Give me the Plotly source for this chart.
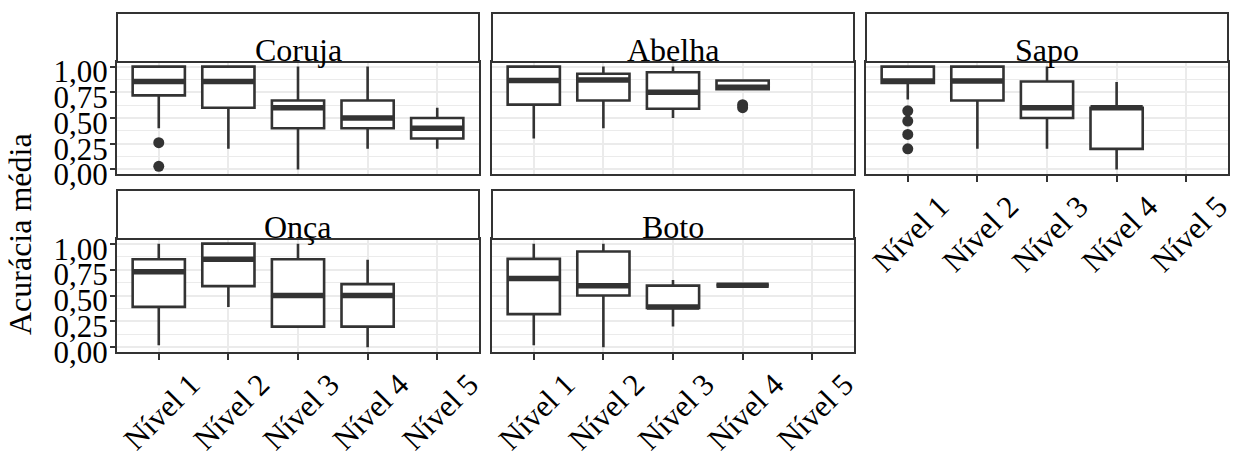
import plotly.graph_objects as go

levels = ["Nível 1", "Nível 2", "Nível 3", "Nível 4", "Nível 5"]

# Coruja
coruja_x = ["Nível 1", "Nível 2", "Nível 3", "Nível 4", "Nível 5"]
coruja_q1 = [0.72, 0.60, 0.40, 0.40, 0.30]
coruja_med = [0.855, 0.855, 0.60, 0.50, 0.40]
coruja_q3 = [1.00, 1.00, 0.67, 0.67, 0.50]
coruja_lo = [0.40, 0.20, 0.00, 0.20, 0.20]
coruja_hi = [1.00, 1.00, 1.00, 1.00, 0.60]
coruja_out_x = ["Nível 1", "Nível 1"]
coruja_out_y = [0.26, 0.03]

# Abelha
abelha_x = ["Nível 1", "Nível 2", "Nível 3", "Nível 4"]
abelha_q1 = [0.63, 0.67, 0.59, 0.78]
abelha_med = [0.865, 0.87, 0.75, 0.80]
abelha_q3 = [1.00, 0.93, 0.945, 0.865]
abelha_lo = [0.30, 0.40, 0.50, 0.78]
abelha_hi = [1.00, 1.00, 1.00, 0.865]
abelha_out_x = ["Nível 4", "Nível 4"]
abelha_out_y = [0.63, 0.60]

# Sapo
sapo_x = ["Nível 1", "Nível 2", "Nível 3", "Nível 4"]
sapo_q1 = [0.84, 0.67, 0.50, 0.20]
sapo_med = [0.86, 0.86, 0.60, 0.60]
sapo_q3 = [1.00, 1.00, 0.855, 0.60]
sapo_lo = [0.68, 0.20, 0.20, 0.00]
sapo_hi = [1.00, 1.00, 1.00, 0.85]
sapo_out_x = ["Nível 1", "Nível 1", "Nível 1", "Nível 1"]
sapo_out_y = [0.57, 0.47, 0.34, 0.20]

# Onça
onca_x = ["Nível 1", "Nível 2", "Nível 3", "Nível 4"]
onca_q1 = [0.39, 0.59, 0.20, 0.20]
onca_med = [0.73, 0.85, 0.50, 0.50]
onca_q3 = [0.85, 1.00, 0.85, 0.61]
onca_lo = [0.02, 0.39, 0.20, 0.00]
onca_hi = [1.00, 1.00, 1.00, 0.845]
onca_out_x = []
onca_out_y = []

# Boto
boto_x = ["Nível 1", "Nível 2", "Nível 3", "Nível 4"]
boto_q1 = [0.32, 0.50, 0.38, 0.60]
boto_med = [0.665, 0.595, 0.39, 0.60]
boto_q3 = [0.853, 0.925, 0.595, 0.60]
boto_lo = [0.02, 0.00, 0.20, 0.60]
boto_hi = [1.00, 1.00, 0.65, 0.60]
boto_out_x = []
boto_out_y = []

y_tickvals = [0.00, 0.25, 0.50, 0.75, 1.00]
y_ticktext = ["0,00", "0,25", "0,50", "0,75", "1,00"]
y_minor = [0.125, 0.375, 0.625, 0.875]

W, H = 1237, 455
FONT = "Liberation Serif, Times New Roman, Times, DejaVu Serif, serif"
DARK = "#333333"
GRID = "#EBEBEB"

cols = [(117, 479), (492, 854), (866, 1228)]
rows = [(62, 174, 13), (239, 352, 190)]

panels = [
    ("Coruja", 0, 0, coruja_x, coruja_q1, coruja_med, coruja_q3, coruja_lo, coruja_hi, coruja_out_x, coruja_out_y),
    ("Abelha", 0, 1, abelha_x, abelha_q1, abelha_med, abelha_q3, abelha_lo, abelha_hi, abelha_out_x, abelha_out_y),
    ("Sapo", 0, 2, sapo_x, sapo_q1, sapo_med, sapo_q3, sapo_lo, sapo_hi, sapo_out_x, sapo_out_y),
    ("Onça", 1, 0, onca_x, onca_q1, onca_med, onca_q3, onca_lo, onca_hi, onca_out_x, onca_out_y),
    ("Boto", 1, 1, boto_x, boto_q1, boto_med, boto_q3, boto_lo, boto_hi, boto_out_x, boto_out_y),
]
bottom_panels = {"Onça", "Boto", "Sapo"}

fig = go.Figure()
shapes = []
annotations = []
layout = {}

for i, (name, r, c, x, q1, med, q3, lo, hi, ox, oy) in enumerate(panels):
    idx = "" if i == 0 else str(i + 1)
    xa, ya = "x" + idx, "y" + idx
    px0, px1 = cols[c]
    ptop, pbot, stop = rows[r]
    xdom = [px0 / W, px1 / W]
    ydom = [1 - pbot / H, 1 - ptop / H]

    fig.add_trace(go.Box(
        x=x, q1=q1, median=med, q3=q3, lowerfence=lo, upperfence=hi,
        width=0.75, fillcolor="white", line=dict(color=DARK, width=2.6),
        whiskerwidth=0, boxpoints=False, showlegend=False, hoverinfo="skip",
        xaxis=xa, yaxis=ya))
    fig.add_trace(go.Box(
        x=x, q1=med, median=med, q3=med, lowerfence=med, upperfence=med,
        width=0.75, fillcolor="rgba(0,0,0,0)", line=dict(color=DARK, width=5.5),
        whiskerwidth=0, boxpoints=False, showlegend=False, hoverinfo="skip",
        xaxis=xa, yaxis=ya))
    if ox:
        fig.add_trace(go.Scatter(
            x=ox, y=oy, mode="markers", marker=dict(color=DARK, size=11),
            showlegend=False, hoverinfo="skip", xaxis=xa, yaxis=ya))

    show_x = name in bottom_panels
    show_y = c == 0
    layout["xaxis" + idx] = dict(
        domain=xdom, anchor=ya, type="category", automargin=False,
        categoryorder="array", categoryarray=levels, range=[-0.6, 4.6],
        showgrid=True, gridcolor=GRID, gridwidth=1.6,
        showline=True, mirror=True, linecolor=DARK, linewidth=2,
        ticks="outside" if show_x else "", ticklen=6, tickwidth=1.6, tickcolor=DARK,
        showticklabels=show_x, tickangle=-45,
        ticklabelshift=32, ticklabelstandoff=-6,
        tickfont=dict(family=FONT, size=31, color="black"),
        zeroline=False, fixedrange=True)
    layout["yaxis" + idx] = dict(
        domain=ydom, anchor=xa, range=[-0.045, 1.045], automargin=False,
        tickvals=y_tickvals, ticktext=y_ticktext,
        showgrid=True, gridcolor=GRID, gridwidth=1.6,
        minor=dict(tickvals=y_minor, showgrid=True, gridcolor=GRID, gridwidth=0.9, ticks=""),
        showline=True, mirror=True, linecolor=DARK, linewidth=2,
        ticks="outside" if show_y else "", ticklen=5, tickwidth=1.6, tickcolor=DARK,
        showticklabels=show_y, ticklabelshift=5, ticklabelstandoff=-4,
        tickfont=dict(family=FONT, size=31, color="black"),
        zeroline=False, fixedrange=True)

    shapes.append(dict(type="rect", xref="paper", yref="paper",
                       x0=px0 / W, x1=px1 / W, y0=1 - ptop / H, y1=1 - stop / H,
                       line=dict(color=DARK, width=2), fillcolor="white", layer="above"))
    annotations.append(dict(text=name, xref="paper", yref="paper",
                            x=(px0 + px1) / 2 / W, y=1 - (ptop + 8) / H,
                            xanchor="center", yanchor="bottom", showarrow=False,
                            font=dict(family=FONT, size=32, color="black")))

annotations.append(dict(text="Acurácia média", xref="paper", yref="paper",
                        x=20 / W, y=1 - 234 / H, xanchor="center", yanchor="middle",
                        textangle=-90, showarrow=False,
                        font=dict(family=FONT, size=32, color="black")))

fig.update_layout(
    width=W, height=H, margin=dict(l=0, r=0, t=0, b=0, autoexpand=False),
    paper_bgcolor="white", plot_bgcolor="white", showlegend=False,
    font=dict(family=FONT, color="black"),
    boxmode="overlay", shapes=shapes, annotations=annotations,
    **layout)

fig.write_html("out.html", config={"displayModeBar": False},
               post_script="document.body.style.margin='0';document.body.style.padding='0';")
